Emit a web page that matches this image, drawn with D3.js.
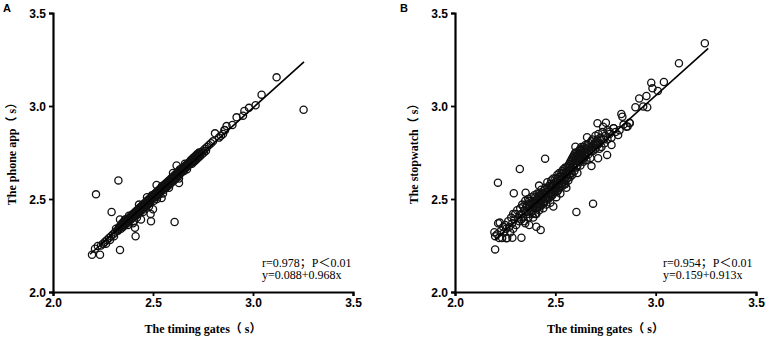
<!DOCTYPE html>
<html>
<head>
<meta charset="utf-8">
<script src="https://cdn.jsdelivr.net/npm/d3@7"></script>
<style>
html,body{margin:0;padding:0;background:#fff;}
svg{display:block;}
</style>
</head>
<body>
<svg id="chart" width="767" height="340"></svg>
<script>
// ---------- DATA ----------
const xTicks = [2.0, 2.5, 3.0, 3.5];
const yTicks = [2.0, 2.5, 3.0, 3.5];
const xTitle = "The timing gates（ s）";
const titleA = "The phone app（ s）";
const titleB = "The stopwatch（ s）";
const statsA = ["r=0.978；P＜0.01", "y=0.088+0.968x"];
const statsB = ["r=0.954；P＜0.01", "y=0.159+0.913x"];
const fitA = [[2.185, 2.203], [3.255, 3.237]];
const fitB = [[2.198, 2.28], [3.262, 3.31]];

const pointsA = [
[2.195,2.20],[2.235,2.20],[2.21,2.233],[2.224,2.247],[2.24,2.25],[2.25,2.26],[2.26,2.27],[2.27,2.28],[2.265,2.26],[2.28,2.29],[2.29,2.30],[2.285,2.28],[2.30,2.31],[2.31,2.32],[2.305,2.30],[2.32,2.33],[2.315,2.34],
[2.33,2.34],[2.335,2.35],[2.34,2.36],[2.34,2.34],[2.345,2.37],[2.35,2.36],[2.35,2.35],[2.355,2.38],[2.36,2.37],[2.36,2.36],[2.365,2.39],[2.37,2.38],[2.37,2.37],[2.375,2.36],[2.38,2.39],[2.38,2.38],[2.385,2.40],[2.39,2.39],[2.39,2.41],[2.395,2.40],[2.40,2.41],[2.40,2.40],[2.40,2.42],[2.405,2.38],[2.41,2.42],[2.41,2.43],[2.415,2.41],[2.42,2.43],[2.42,2.44],[2.425,2.42],[2.43,2.44],[2.43,2.45],[2.435,2.43],[2.44,2.45],[2.44,2.46],[2.445,2.44],[2.45,2.46],[2.45,2.47],[2.455,2.45],[2.46,2.47],[2.46,2.48],[2.465,2.46],[2.47,2.48],[2.47,2.49],[2.475,2.47],[2.48,2.49],[2.48,2.50],[2.485,2.48],[2.49,2.50],[2.49,2.51],[2.495,2.52],[2.50,2.51],[2.50,2.52],[2.505,2.49],[2.51,2.52],[2.51,2.53],[2.515,2.51],[2.52,2.53],[2.52,2.54],[2.525,2.52],[2.53,2.54],[2.53,2.55],[2.535,2.53],[2.54,2.55],[2.54,2.56],[2.545,2.57],[2.55,2.56],[2.555,2.55],[2.56,2.57],[2.56,2.58],[2.565,2.56],[2.57,2.58],[2.57,2.59],[2.575,2.57],[2.58,2.59],[2.58,2.60],[2.585,2.58],[2.59,2.60],[2.59,2.61],[2.595,2.59],[2.60,2.61],[2.60,2.62],[2.605,2.60],[2.61,2.62],[2.61,2.63],[2.615,2.61],[2.62,2.63],[2.62,2.64],[2.625,2.62],[2.63,2.64],[2.63,2.65],[2.635,2.66],[2.64,2.65],[2.64,2.64],[2.645,2.66],[2.65,2.66],[2.65,2.67],[2.655,2.65],[2.66,2.67],[2.665,2.68],[2.67,2.68],[2.67,2.66],[2.675,2.69],[2.68,2.69],[2.685,2.70],[2.69,2.70],[2.69,2.71],[2.695,2.69],[2.70,2.71],[2.70,2.72],[2.705,2.70],[2.71,2.72],[2.71,2.73],[2.715,2.71],[2.72,2.73],[2.72,2.74],[2.725,2.72],[2.73,2.74],[2.73,2.75],[2.735,2.73],[2.74,2.75],[2.745,2.74],[2.75,2.76],[2.755,2.75],[2.76,2.77],[2.765,2.76],[2.77,2.78],[2.78,2.79],[2.79,2.80],[2.80,2.81],[2.83,2.83],[2.84,2.84],[2.85,2.85],[2.86,2.87],
[2.325,2.33],[2.33,2.35],[2.338,2.355],[2.343,2.35],[2.348,2.365],[2.352,2.37],[2.358,2.365],[2.362,2.38],[2.368,2.375],[2.372,2.39],[2.378,2.385],[2.382,2.40],[2.388,2.395],[2.392,2.40],[2.398,2.415],[2.402,2.405],[2.408,2.425],[2.412,2.415],[2.418,2.435],[2.422,2.425],[2.428,2.445],[2.432,2.435],[2.438,2.455],[2.442,2.445],[2.448,2.465],[2.452,2.455],[2.458,2.475],[2.462,2.465],[2.468,2.485],[2.472,2.475],[2.478,2.495],[2.482,2.485],[2.488,2.505],[2.492,2.495],[2.498,2.505],[2.502,2.515],[2.508,2.525],[2.512,2.515],[2.518,2.535],[2.522,2.525],[2.528,2.545],[2.532,2.535],[2.538,2.555],[2.542,2.545],[2.548,2.565],[2.552,2.555],[2.558,2.575],[2.562,2.565],[2.568,2.585],[2.572,2.575],[2.578,2.595],[2.582,2.585],[2.588,2.605],[2.592,2.595],[2.598,2.615],[2.602,2.605],[2.608,2.625],[2.612,2.615],[2.618,2.635],[2.622,2.625],[2.628,2.645],[2.632,2.635],[2.638,2.655],[2.642,2.645],[2.648,2.665],[2.652,2.655],[2.658,2.675],[2.662,2.665],[2.668,2.685],[2.672,2.675],[2.678,2.695],[2.682,2.685],[2.688,2.705],[2.692,2.695],[2.698,2.715],[2.702,2.705],[2.708,2.725],[2.712,2.715],[2.718,2.735],[2.722,2.725],[2.728,2.745],[2.732,2.735],
[2.40,2.37],[2.42,2.40],[2.45,2.43],[2.47,2.51],[2.52,2.50],[2.55,2.53],[2.58,2.56],[2.43,2.47],[2.38,2.41],[2.36,2.39],[2.60,2.64],[2.63,2.61],[2.66,2.69],[2.48,2.46],
[2.215,2.525],[2.327,2.60],[2.293,2.43],[2.335,2.226],[2.413,2.30],[2.608,2.376],[2.49,2.38],[2.50,2.445],[2.488,2.42],[2.44,2.39],[2.41,2.345],[2.63,2.586],[2.543,2.505],[2.518,2.575],[2.618,2.68],[2.335,2.39],
[3.253,2.98],[3.118,3.154],[3.043,3.061],[3.013,3.004],[2.98,2.99],[2.957,2.973],[2.918,2.939],[2.95,2.948],[2.897,2.898],[2.868,2.892],[2.81,2.853],[2.857,2.871]
];

const pointsB = [
[2.20,2.30],[2.21,2.31],[2.215,2.37],[2.22,2.29],[2.23,2.33],[2.235,2.29],[2.24,2.35],[2.245,2.32],[2.25,2.36],[2.255,2.34],[2.26,2.29],[2.265,2.38],[2.27,2.35],[2.275,2.32],[2.28,2.40],[2.285,2.37],[2.29,2.34],[2.29,2.42],[2.295,2.39],[2.30,2.42],[2.305,2.36],[2.31,2.44],[2.315,2.40],[2.32,2.38],[2.325,2.45],[2.33,2.42],[2.335,2.47],[2.34,2.40],[2.345,2.44],[2.35,2.49],[2.35,2.37],[2.355,2.46],[2.36,2.42],[2.365,2.50],[2.37,2.45],[2.37,2.36],[2.375,2.48],[2.38,2.43],[2.38,2.51],[2.385,2.46],[2.39,2.40],[2.39,2.49],[2.395,2.52],[2.40,2.45],[2.40,2.48],[2.405,2.42],[2.41,2.50],[2.41,2.53],[2.415,2.46],[2.42,2.49],[2.42,2.44],[2.425,2.52],[2.43,2.47],[2.43,2.55],[2.435,2.50],[2.44,2.45],[2.44,2.53],[2.445,2.48],[2.45,2.56],[2.45,2.51],[2.455,2.47],[2.46,2.54],[2.46,2.59],[2.465,2.50],[2.47,2.57],[2.47,2.53],[2.475,2.48],[2.48,2.55],[2.48,2.60],[2.485,2.52],[2.49,2.58],[2.49,2.46],[2.495,2.54],[2.50,2.61],[2.50,2.56],[2.505,2.51],[2.51,2.59],[2.51,2.63],[2.515,2.55],[2.52,2.62],[2.52,2.58],[2.525,2.53],[2.53,2.64],[2.53,2.60],[2.535,2.57],[2.54,2.66],[2.54,2.62],[2.545,2.58],[2.55,2.64],[2.55,2.60],[2.555,2.56],[2.56,2.67],[2.56,2.63],[2.565,2.60],[2.57,2.69],[2.57,2.65],[2.575,2.62],[2.58,2.71],[2.58,2.67],[2.585,2.63],[2.59,2.73],[2.59,2.69],[2.595,2.65],[2.60,2.75],[2.60,2.71],[2.605,2.67],[2.61,2.73],[2.61,2.64],[2.615,2.70],[2.62,2.76],[2.62,2.72],[2.625,2.68],[2.63,2.74],[2.63,2.78],[2.635,2.71],[2.64,2.76],[2.64,2.70],[2.645,2.73],[2.65,2.79],[2.65,2.75],[2.655,2.71],[2.66,2.77],[2.665,2.74],[2.67,2.80],[2.67,2.76],[2.675,2.72],[2.68,2.78],[2.685,2.82],[2.69,2.76],[2.695,2.80],[2.70,2.84],[2.70,2.77],[2.705,2.81],[2.71,2.79],[2.715,2.85],[2.72,2.80],[2.725,2.83],[2.73,2.78],[2.735,2.86],[2.74,2.82],[2.745,2.80],[2.75,2.84],[2.76,2.87],[2.76,2.82],[2.77,2.85],[2.78,2.83],[2.79,2.88],[2.80,2.86],[2.82,2.87],[2.84,2.90],[2.86,2.89],[2.87,2.91],
[2.33,2.39],[2.34,2.46],[2.345,2.38],[2.355,2.43],[2.36,2.47],[2.365,2.40],[2.37,2.49],[2.375,2.44],[2.38,2.47],[2.385,2.42],[2.39,2.46],[2.395,2.48],[2.40,2.51],[2.40,2.42],[2.405,2.47],[2.41,2.45],[2.415,2.51],[2.42,2.47],[2.42,2.53],[2.425,2.46],[2.43,2.50],[2.435,2.53],[2.44,2.48],[2.44,2.51],[2.445,2.55],[2.45,2.49],[2.45,2.53],[2.455,2.51],[2.46,2.50],[2.46,2.56],[2.465,2.53],[2.47,2.51],[2.47,2.55],[2.475,2.58],[2.48,2.52],[2.48,2.57],[2.485,2.55],[2.49,2.53],[2.49,2.61],[2.495,2.57],[2.50,2.54],[2.50,2.59],[2.505,2.56],[2.51,2.54],[2.51,2.61],[2.515,2.58],[2.52,2.56],[2.52,2.64],[2.525,2.60],[2.53,2.57],[2.53,2.62],[2.535,2.65],[2.54,2.59],[2.54,2.64],[2.545,2.61],[2.55,2.58],[2.55,2.67],[2.555,2.63],[2.56,2.61],[2.56,2.65],[2.565,2.68],[2.57,2.63],[2.57,2.67],[2.575,2.70],[2.58,2.64],[2.58,2.69],[2.585,2.72],[2.59,2.67],[2.59,2.71],[2.595,2.74],[2.60,2.69],[2.60,2.73],[2.605,2.71],[2.61,2.68],[2.61,2.75],[2.615,2.73],[2.62,2.70],[2.62,2.74],[2.625,2.77],[2.63,2.72],[2.63,2.76],[2.635,2.74],[2.64,2.72],[2.64,2.78],[2.645,2.75],[2.65,2.73],[2.65,2.77],[2.66,2.75],[2.66,2.79],[2.67,2.78],[2.68,2.76],[2.68,2.81],[2.69,2.79],[2.70,2.80],[2.71,2.82],[2.72,2.77],[2.73,2.82],
[2.214,2.588],[2.323,2.661],[2.449,2.717],[2.293,2.531],[2.352,2.534],[2.419,2.572],[2.20,2.229],[2.196,2.321],[2.223,2.373],[2.331,2.292],[2.605,2.43],[2.688,2.475],[2.427,2.333],[2.405,2.351],[2.286,2.292],[2.256,2.289],
[3.245,3.337],[3.116,3.23],[3.041,3.129],[2.978,3.125],[2.984,3.095],[3.011,3.081],[2.958,2.993],[2.954,3.054],[2.918,3.04],[2.899,2.993],[2.938,2.997],[2.871,2.907],[2.854,2.889],[2.829,2.957],[2.834,2.942],[2.813,2.844],[2.78,2.79],[2.658,2.832],[2.71,2.907],[2.752,2.91],[2.738,2.889],[2.771,2.862],[2.791,2.88],[2.758,2.737],[2.713,2.719],[2.68,2.677],[2.60,2.781],[2.622,2.763]
];

// ---------- DRAW ----------
const svg = d3.select("#chart");
const sansBold = "'Liberation Sans', Arial, sans-serif";
const serif = "'Liberation Serif', 'Times New Roman', 'Noto Sans CJK SC', serif";

function panel(cfg) {
  const x = d3.scaleLinear().domain([2, 3.5]).range([cfg.x0, cfg.x1]);
  const y = d3.scaleLinear().domain([2, 3.5]).range([292, 13]);
  const g = svg.append("g");

  // points
  g.append("g").selectAll("circle").data(cfg.points).join("circle")
    .attr("cx", d => x(d[0])).attr("cy", d => y(d[1])).attr("r", 3.6)
    .attr("fill", "none").attr("stroke", "#111").attr("stroke-width", 1.3);

  // fit line
  g.append("path").datum(cfg.fit)
    .attr("d", d3.line().x(d => x(d[0])).y(d => y(d[1])))
    .attr("stroke", "#000").attr("stroke-width", 1.6).attr("fill", "none");

  // axes
  const xa = g.append("g").attr("transform", "translate(0,292)")
    .call(d3.axisBottom(x).tickValues(xTicks).tickFormat(d3.format(".1f")).tickSizeOuter(0).tickSize(4).tickPadding(2));
  const ya = g.append("g").attr("transform", `translate(${cfg.x0},0)`)
    .call(d3.axisLeft(y).tickValues(yTicks).tickFormat(d3.format(".1f")).tickSizeOuter(0).tickSize(4).tickPadding(3));
  [xa, ya].forEach(a => {
    a.select(".domain").attr("stroke", "#000").attr("stroke-width", 2.2);
    a.selectAll(".tick line").attr("stroke", "#000").attr("stroke-width", 1.8);
    a.selectAll(".tick text").attr("fill", "#000")
      .style("font-family", sansBold).style("font-weight", "bold").style("font-size", "12px");
  });
  ya.selectAll(".tick text").attr("dy", "0.35em");

  // x title
  g.append("text").attr("x", (cfg.x0 + cfg.x1) / 2).attr("y", 333)
    .attr("text-anchor", "middle").style("font-family", serif).style("font-weight", "bold")
    .style("font-size", "12px").text(xTitle);
  // y title
  g.append("text").attr("transform", `translate(${cfg.yTitleX},151) rotate(-90)`)
    .attr("text-anchor", "middle").style("font-family", serif).style("font-weight", "bold")
    .style("font-size", "12px").text(cfg.yTitle);

  // stats
  g.selectAll("text.stat").data(cfg.stats).join("text").attr("class", "stat")
    .attr("x", cfg.statX).attr("y", (d, i) => 266.5 + i * 12.5)
    .style("font-family", serif).style("font-size", "12px").text(d => d);

  // panel letter
  g.append("text").attr("x", cfg.letterX).attr("y", 12)
    .style("font-family", sansBold).style("font-weight", "bold").style("font-size", "11px")
    .text(cfg.letter);
}

panel({x0: 53, x1: 353, points: pointsA, fit: fitA, yTitle: titleA, yTitleX: 16, stats: statsA, statX: 262, letter: "A", letterX: 3});
panel({x0: 455, x1: 756, points: pointsB, fit: fitB, yTitle: titleB, yTitleX: 418, stats: statsB, statX: 663, letter: "B", letterX: 400});
</script>
</body>
</html>
